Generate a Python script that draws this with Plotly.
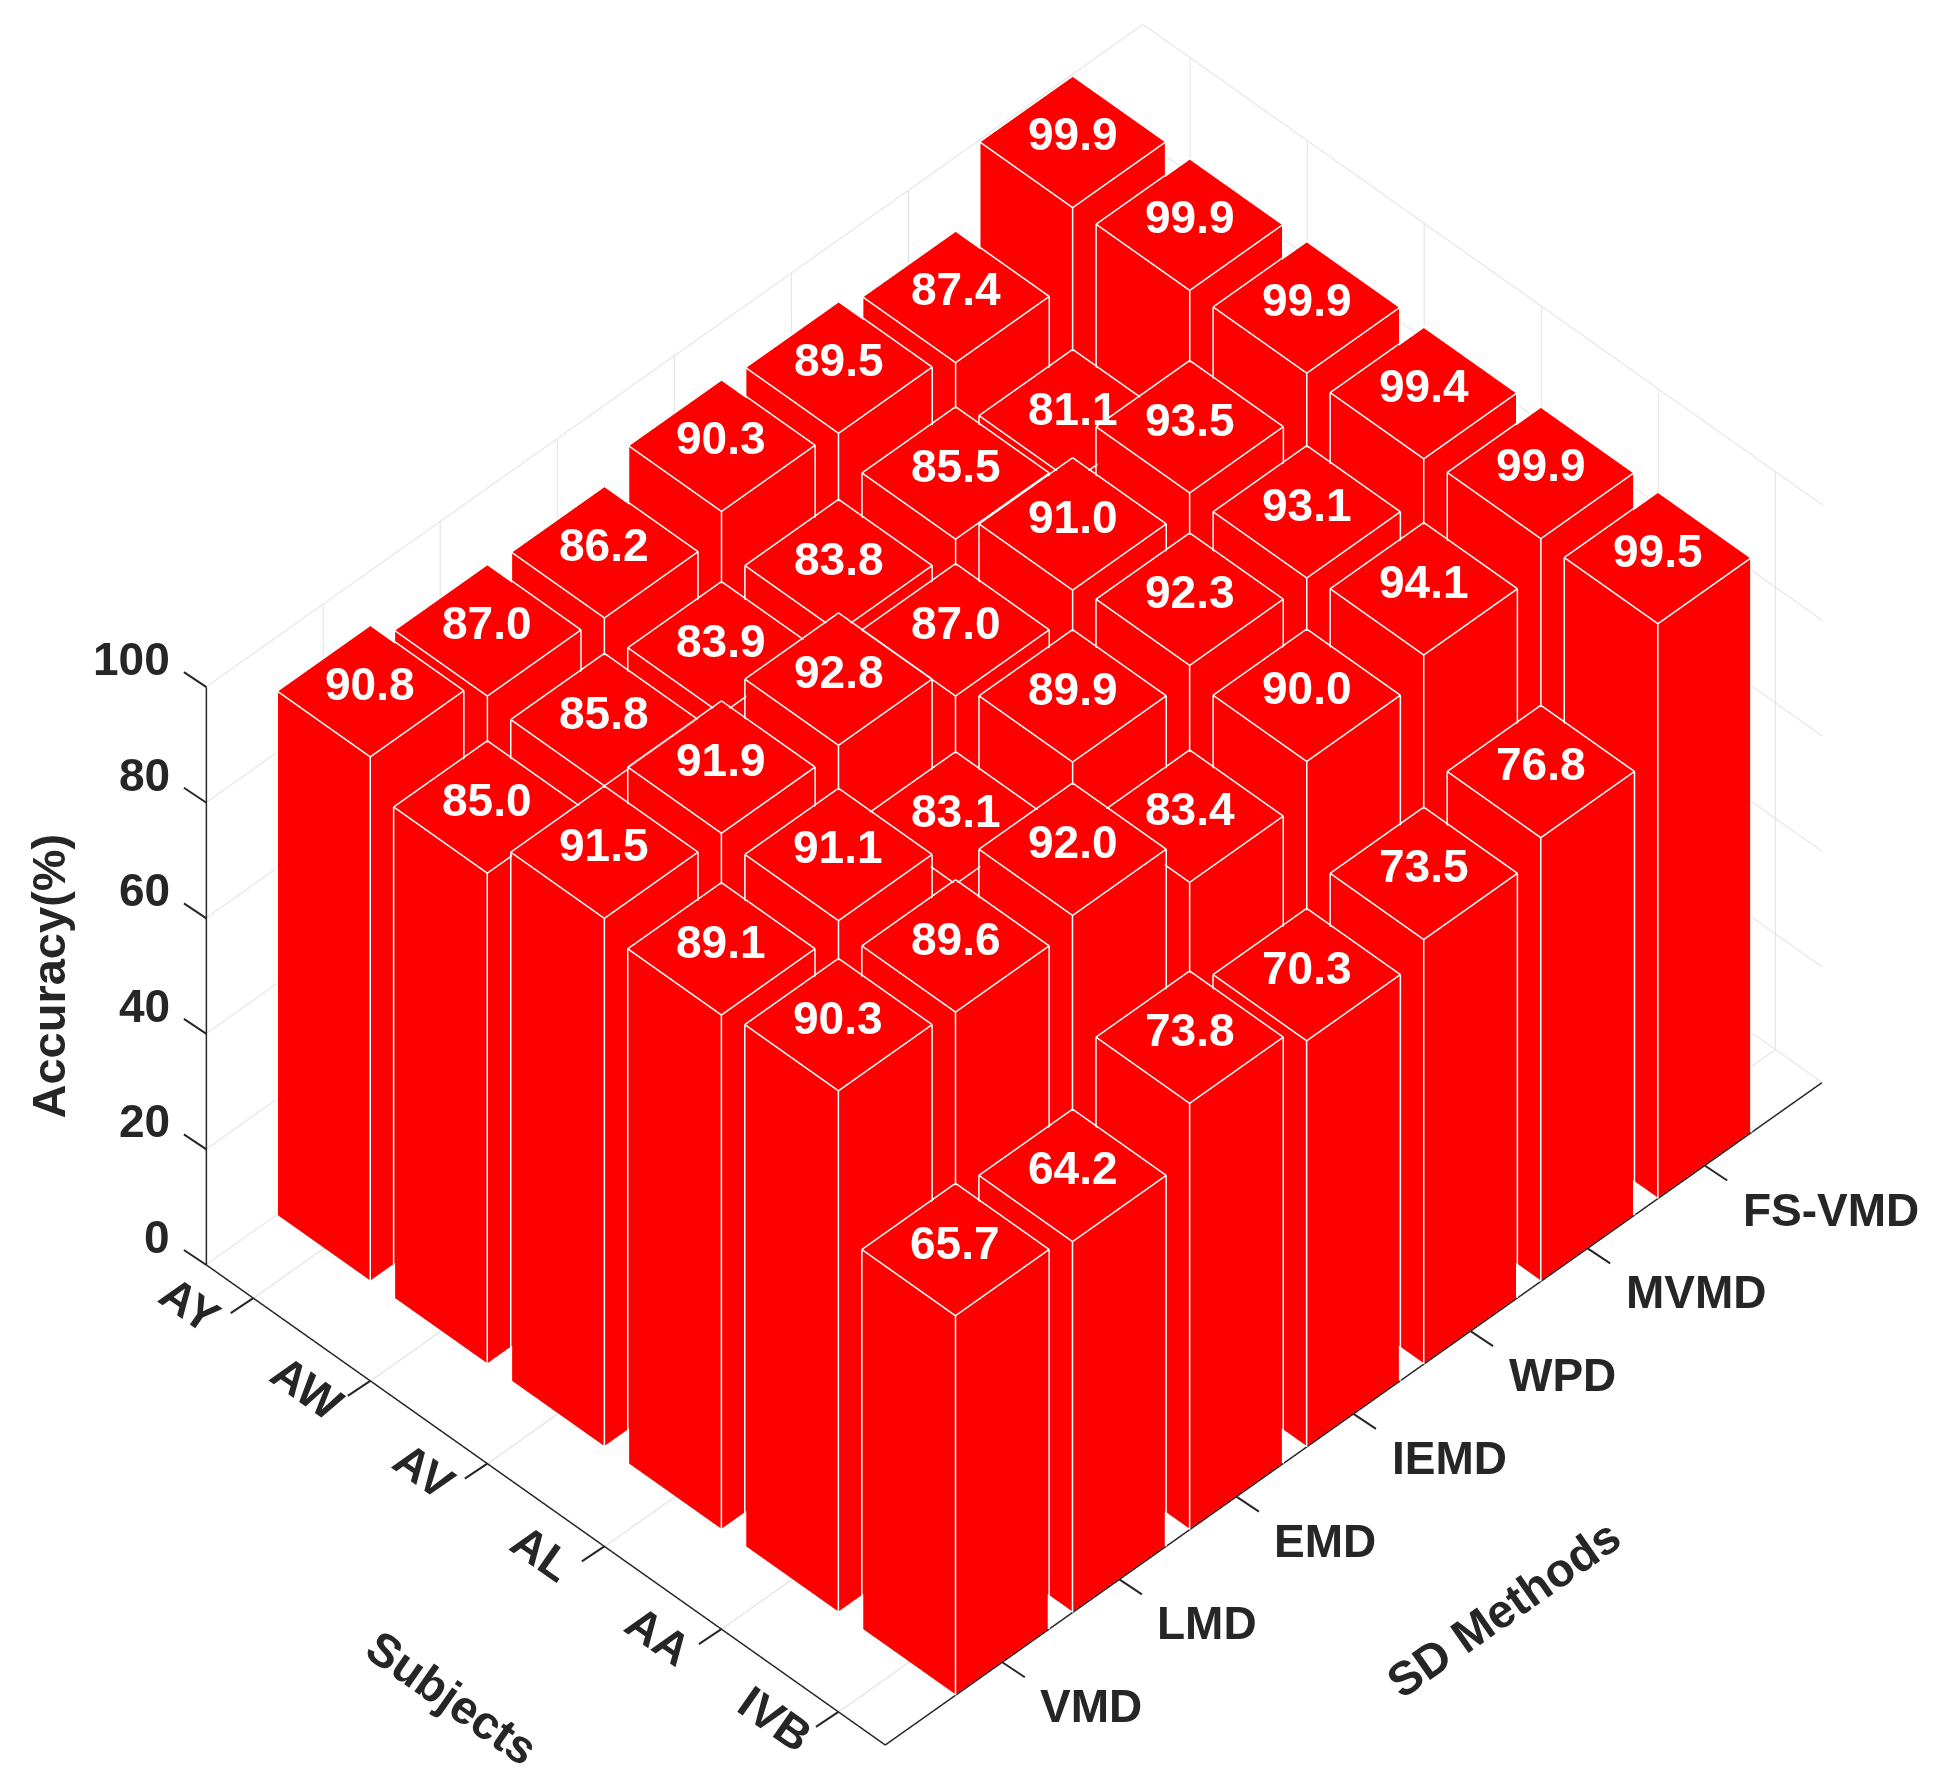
import plotly.graph_objects as go

subjects = ["AY", "AW", "AV", "AL", "AA", "IVB"]
methods = ["VMD", "LMD", "EMD", "IEMD", "WPD", "MVMD", "FS-VMD"]
# one list per method, in subject order
vmd = [90.8, 85.0, 91.5, 89.1, 90.3, 65.7]
lmd = [87.0, 85.8, 91.9, 91.1, 89.6, 64.2]
emd = [86.2, 83.9, 92.8, 83.1, 92.0, 73.8]
iemd = [90.3, 83.8, 87.0, 89.9, 83.4, 70.3]
wpd = [89.5, 85.5, 91.0, 92.3, 90.0, 73.5]
mvmd = [87.4, 81.1, 93.5, 93.1, 94.1, 76.8]
fsvmd = [99.9, 99.9, 99.9, 99.4, 99.9, 99.5]
series = [vmd, lmd, emd, iemd, wpd, mvmd, fsvmd]
z_ticks = [0, 20, 40, 60, 80, 100]

BAR = 0.4
INSET = 0.006   # red faces sit just inside the white outlines, so the outlines stay on top
INSET_Z = 0.12
XLIM = [0.6, 6.4]
YLIM = [0, 8]
ZLIM = [0, 100]
DARK = "#262626"
FONT = "Liberation Sans"

vx, vy, vz, ti, tj, tk = [], [], [], [], [], []
ex, ey, ez = [], [], []
for j, row in enumerate(series, start=1):
    for i, h in enumerate(row, start=1):
        b = len(vx)
        x0, x1, y0, y1 = i - BAR, i + BAR, j - BAR, j + BAR
        corners_x = [x0, x1, x1, x0, x0, x1, x1, x0]
        corners_y = [y0, y0, y1, y1, y0, y0, y1, y1]
        corners_z = [0, 0, 0, 0, h, h, h, h]
        vx += [x0 + INSET, x1 - INSET, x1 - INSET, x0 + INSET] * 2
        vy += [y0 + INSET, y0 + INSET, y1 - INSET, y1 - INSET] * 2
        vz += [0, 0, 0, 0] + [h - INSET_Z] * 4
        for a, c, d in [(0, 1, 2), (0, 2, 3), (4, 5, 6), (4, 6, 7), (0, 1, 5), (0, 5, 4),
                        (1, 2, 6), (1, 6, 5), (2, 3, 7), (2, 7, 6), (3, 0, 4), (3, 4, 7)]:
            ti.append(b + a); tj.append(b + c); tk.append(b + d)
        for p, q in [(4, 5), (5, 6), (6, 7), (7, 4), (0, 4), (1, 5), (2, 6)]:
            ex += [corners_x[p], corners_x[q], None]
            ey += [corners_y[p], corners_y[q], None]
            ez += [corners_z[p], corners_z[q], None]

fig = go.Figure()
fig.add_trace(go.Mesh3d(x=vx, y=vy, z=vz, i=ti, j=tj, k=tk, color="#ff0000", flatshading=True,
                        lighting=dict(ambient=1, diffuse=0, specular=0, fresnel=0), hoverinfo="skip"))
fig.add_trace(go.Scatter3d(x=ex, y=ey, z=ez, mode="lines", line=dict(color="#ffffff", width=3),
                           hoverinfo="skip", showlegend=False))
# axis lines along the three front edges of the box
fig.add_trace(go.Scatter3d(
    x=[XLIM[0], XLIM[0], None, XLIM[0], XLIM[1], None, XLIM[1], XLIM[1]],
    y=[YLIM[0], YLIM[0], None, YLIM[0], YLIM[0], None, YLIM[0], YLIM[1]],
    z=[ZLIM[0], ZLIM[1], None, 0, 0, None, 0, 0],
    mode="lines", line=dict(color=DARK, width=3), hoverinfo="skip", showlegend=False))

anns = []
for j, row in enumerate(series, start=1):
    for i, h in enumerate(row, start=1):
        anns.append(dict(x=i, y=j, z=h, text=f"{h:.1f}", showarrow=False, yshift=7,
                         font=dict(family=FONT, size=46, color="#ffffff", weight="bold")))
tick_font = dict(family=FONT, size=46, color=DARK, weight="bold")
for i, s in enumerate(subjects, start=1):
    anns.append(dict(x=i, y=YLIM[0], z=0, text=s, showarrow=False, textangle=35, xshift=-63, yshift=-7, font=tick_font))
for j, m in enumerate(methods, start=1):
    anns.append(dict(x=XLIM[1], y=j, z=0, text=m, showarrow=False, xanchor="left", xshift=36, yshift=-44, font=tick_font))
for t in z_ticks:
    anns.append(dict(x=XLIM[0], y=YLIM[0], z=t, text=str(t), showarrow=False, xanchor="right", xshift=-34, yshift=28, font=tick_font))
title_font = dict(family=FONT, size=47, color=DARK, weight="bold")
anns.append(dict(x=XLIM[0], y=YLIM[0], z=50, text="Accuracy(%)", showarrow=False, textangle=-90, xshift=-158, font=title_font))
anns.append(dict(x=3.5, y=YLIM[0], z=0, text="Subjects", showarrow=False, textangle=35, xshift=-94, yshift=-193, font=title_font))
anns.append(dict(x=XLIM[1], y=4, z=0, text="SD Methods", showarrow=False, textangle=-35, xshift=150, yshift=-195, font=title_font))

# tick marks: short strokes pointing away from the box
tick_style = dict(text=" ", showarrow=True, arrowhead=0, arrowwidth=2, arrowcolor=DARK, standoff=0,
                  font=dict(size=1, color=DARK))
for t in z_ticks:
    anns.append(dict(x=XLIM[0], y=YLIM[0], z=t, ax=-24, ay=-16, **tick_style))
for i in range(1, len(subjects) + 1):
    anns.append(dict(x=i, y=YLIM[0], z=0, ax=-24, ay=16, **tick_style))
for j in range(1, len(methods) + 1):
    anns.append(dict(x=XLIM[1], y=j, z=0, ax=24, ay=16, **tick_style))


def axis(vals, rng, pad):
    return dict(range=[rng[0] - pad, rng[1] + pad], tickvals=vals, title=dict(text=""), showticklabels=False,
                showbackground=False, showgrid=True, gridcolor="#dcdcdc", gridwidth=2,
                zeroline=False, showspikes=False, showline=False, ticks="", autorange=False)


R = 2.0
cx, cy, cz = -0.0355, -0.0401, -0.0032
fig.update_layout(
    width=1918, height=1762, margin=dict(l=0, r=0, t=0, b=0), paper_bgcolor="white", showlegend=False,
    scene=dict(
        domain=dict(x=[0, 1], y=[0, 1]),
        xaxis=axis(list(range(1, 7)), XLIM, 0.003), yaxis=axis(list(range(1, 8)), YLIM, 0.003),
        zaxis=axis(z_ticks, ZLIM, 0.05),
        aspectmode="manual", aspectratio=dict(x=1.0908, y=1.5045, z=0.9284),
        camera=dict(eye=dict(x=cx + R, y=cy - R, z=cz + R * 1.4142), up=dict(x=0, y=0, z=1),
                    center=dict(x=cx, y=cy, z=cz), projection=dict(type="orthographic")),
        annotations=anns, bgcolor="white",
    ),
)
fig.write_html("out.html")
